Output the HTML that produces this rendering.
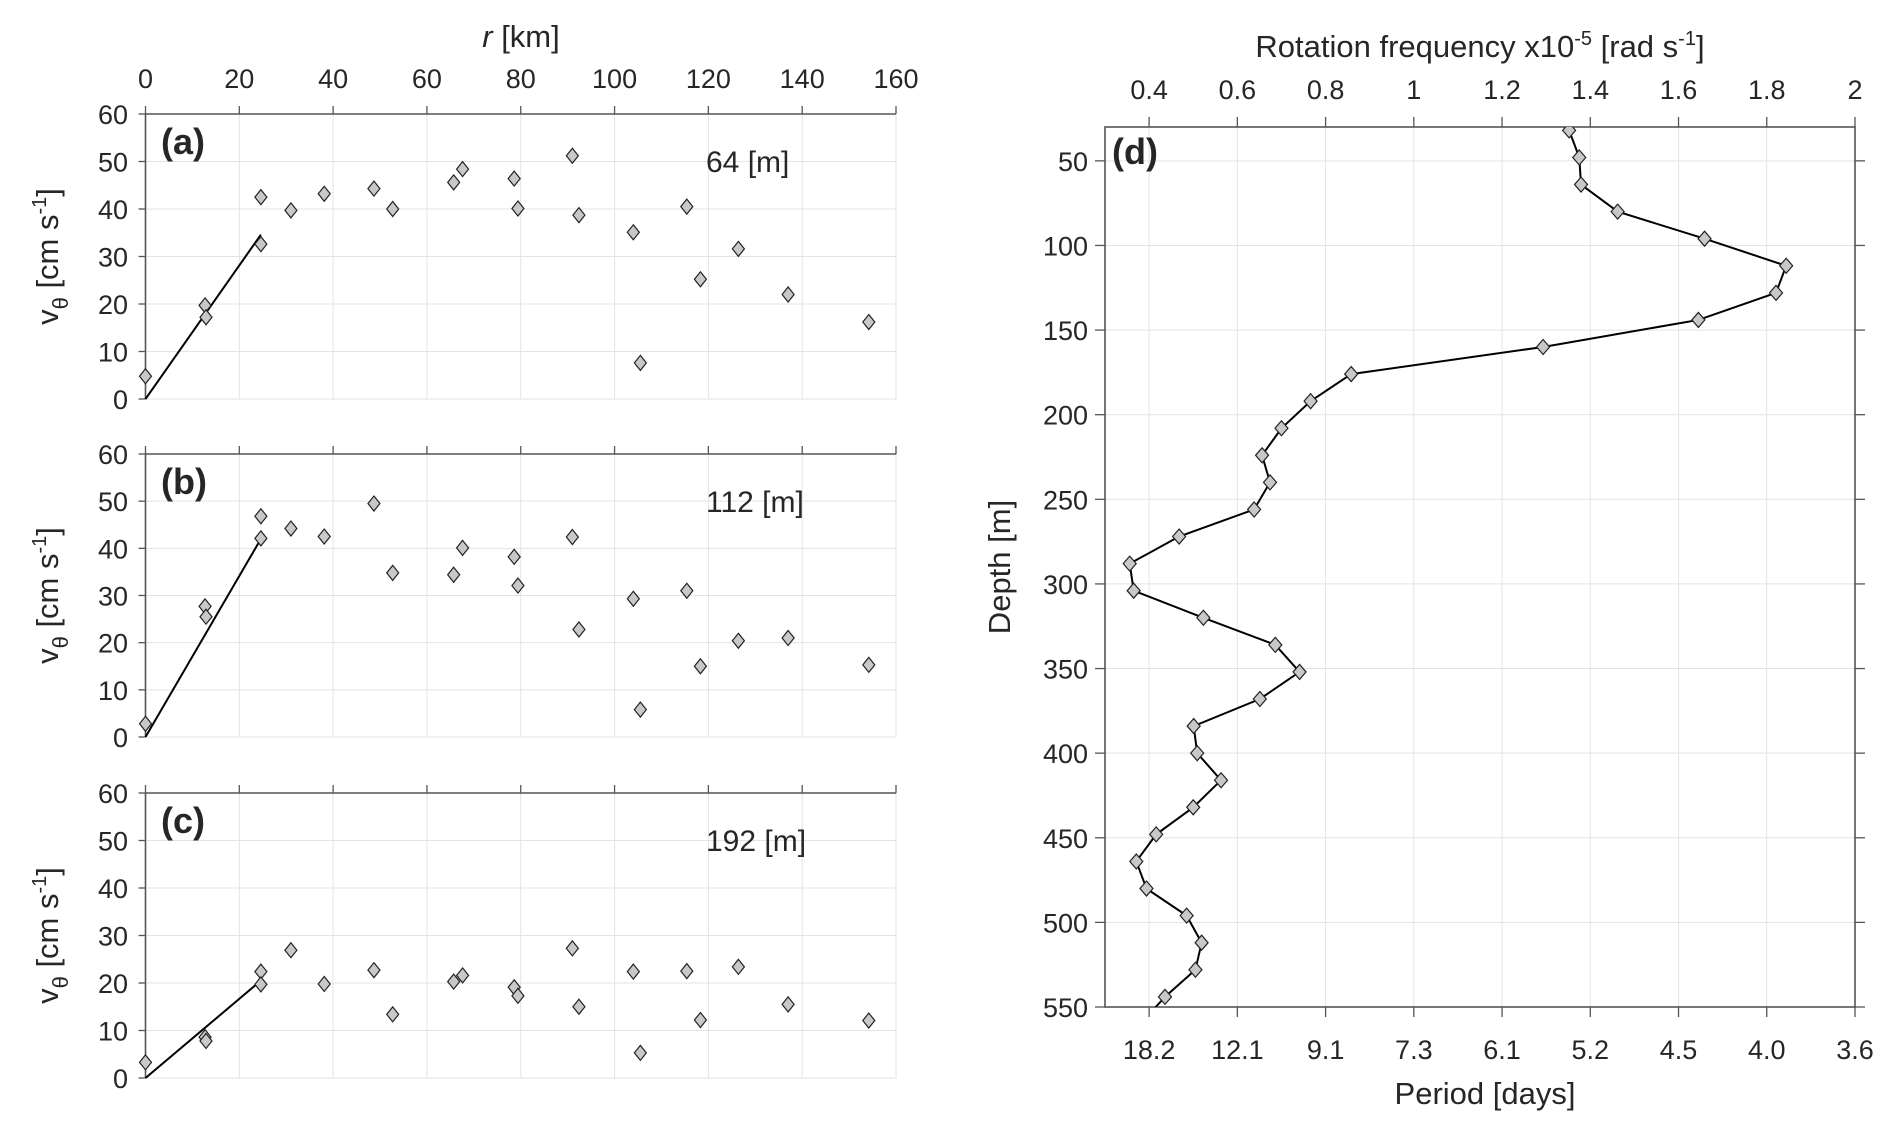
<!DOCTYPE html>
<html><head><meta charset="utf-8"><style>
html,body{margin:0;padding:0;background:#fff;}
svg text{font-family:"Liberation Sans",sans-serif;fill:#262626;}
</style></head><body>
<svg id="fig" width="1892" height="1130" viewBox="0 0 1892 1130" xmlns="http://www.w3.org/2000/svg">
<defs><clipPath id="clipd"><rect x="1105" y="127" width="750" height="880"/></clipPath></defs>
</svg>
<script>
// ---- data for panels a-c ----
const rKm = [0, 12.7, 12.9, 24.6, 24.6, 31, 38.1, 48.7, 52.7, 65.7, 67.6, 78.6, 79.4, 91, 92.4, 104, 105.5, 115.4, 118.3, 126.4, 137, 154.2];
const vA = [4.8, 19.7, 17.2, 42.5, 32.6, 39.7, 43.2, 44.3, 40.0, 45.6, 48.4, 46.4, 40.1, 51.2, 38.7, 35.1, 7.6, 40.5, 25.2, 31.6, 22.0, 16.2];
const vB = [2.8, 27.7, 25.5, 46.8, 42.1, 44.2, 42.5, 49.5, 34.8, 34.4, 40.1, 38.2, 32.1, 42.4, 22.8, 29.3, 5.8, 31.0, 15.0, 20.4, 21.0, 15.3];
const vC = [3.3, 8.6, 7.8, 22.4, 19.7, 26.9, 19.8, 22.7, 13.4, 20.3, 21.6, 19.1, 17.3, 27.3, 15.0, 22.4, 5.3, 22.5, 12.2, 23.4, 15.5, 12.1];
const fitEndR = [24.6, 24.6, 24.6];
const fitEndV = [34.6, 42.0, 20.5];
const rTicks = [0, 20, 40, 60, 80, 100, 120, 140, 160];
const vTicks = [0, 10, 20, 30, 40, 50, 60];
const panelLabels = ["(a)", "(b)", "(c)"];
const depthLabels = ["64 [m]", "112 [m]", "192 [m]"];
// ---- data for panel d ----
const depthM = [32,48,64,80,96,112,128,144,160,176,192,208,224,240,256,272,288,304,320,336,352,368,384,400,416,432,448,464,480,496,512,528,544,560];
const freq = [1.352,1.375,1.379,1.462,1.659,1.844,1.821,1.645,1.293,0.858,0.766,0.700,0.656,0.674,0.638,0.468,0.356,0.365,0.523,0.686,0.741,0.651,0.501,0.509,0.563,0.500,0.416,0.371,0.394,0.485,0.519,0.505,0.436,0.38];
const fTicks = [0.4,0.6,0.8,1,1.2,1.4,1.6,1.8,2];
const fTickLabels = ["0.4","0.6","0.8","1","1.2","1.4","1.6","1.8","2"];
const periodLabels = ["18.2","12.1","9.1","7.3","6.1","5.2","4.5","4.0","3.6"];
const dTicks = [50,100,150,200,250,300,350,400,450,500,550];

const svg = document.getElementById('fig');
const NS = "http://www.w3.org/2000/svg";
function mk(tag, attrs, parent){const e=document.createElementNS(NS,tag);for(const k in attrs)e.setAttribute(k,attrs[k]);(parent||svg).appendChild(e);return e;}
function diamond(cx,cy,hw,hh,parent){return mk('polygon',{points:`${cx},${cy-hh} ${cx+hw},${cy} ${cx},${cy+hh} ${cx-hw},${cy}`,fill:'#c8c8c8',stroke:'#222','stroke-width':1.2},parent);}

const X0=145.5, X1=896;
const panels=[{top:114,bot:399,v:vA},{top:454,bot:737,v:vB},{top:793,bot:1078,v:vC}];
const xr = r => X0 + (r/160)*(X1-X0);
panels.forEach((p,i)=>{
  const g=mk('g',{});
  
  
  const yv = v => p.bot - (v/60)*(p.bot-p.top);
  rTicks.forEach(t=>{const l=mk('line',{x1:xr(t),x2:xr(t),y1:p.top,y2:p.bot,stroke:'#e3e3e3','stroke-width':1},g);
    const tk=mk('line',{x1:xr(t),x2:xr(t),y1:p.top-8,y2:p.top,stroke:'#555','stroke-width':1.3},g);});
  vTicks.forEach(t=>{const l=mk('line',{x1:X0,x2:X1,y1:yv(t),y2:yv(t),stroke:'#e3e3e3','stroke-width':1},g);
    const tk=mk('line',{x1:X0-7,x2:X0,y1:yv(t),y2:yv(t),stroke:'#555','stroke-width':1.3},g);
    const tx=mk('text',{x:128,y:yv(t)+10,'text-anchor':'end','font-size':27},g);tx.textContent=t;});
  const ax=mk('path',{d:`M${X0},${p.bot} L${X0},${p.top} L${X1},${p.top}`,fill:'none',stroke:'#555','stroke-width':1.6},g);
  
  const fl=mk('line',{x1:xr(0),y1:yv(0),x2:xr(fitEndR[i]),y2:yv(fitEndV[i]),stroke:'#000','stroke-width':2},g);
  
  p.v.forEach((v,j)=>{const d=diamond(xr(rKm[j]),yv(v),6,7.5,g);});
  const pl=mk('text',{x:161,y:p.top+40,'font-size':36,'font-weight':'bold',fill:'#000'},g);
  pl.textContent=panelLabels[i];
  const dl=mk('text',{x:706,y:p.top+58,'font-size':30,fill:'#000'},g);
  dl.textContent=depthLabels[i];
  const yl=mk('text',{x:0,y:0,'font-size':31,'text-anchor':'middle',transform:`translate(58,${(p.top+p.bot)/2}) rotate(-90)`},g);
  yl.innerHTML='v<tspan font-size="22" dy="10">θ</tspan><tspan dy="-10"> [cm s</tspan><tspan font-size="20" dy="-12">-1</tspan><tspan dy="12">]</tspan>';
  
});
rTicks.forEach(t=>{const tx=mk('text',{x:xr(t),y:88,'text-anchor':'middle','font-size':27});tx.textContent=t;});
const xt=mk('text',{x:521,y:47,'text-anchor':'middle','font-size':31});
xt.innerHTML='<tspan font-style="italic">r</tspan> [km]';


const DX0=1105, DX1=1855, DY0=127, DY1=1007;
const xf = f => DX0 + (f-0.3)/(2-0.3)*(DX1-DX0);
const yd = d => DY0 + (d-30)/(550-30)*(DY1-DY0);
const gd=mk('g',{});


fTicks.forEach((f,i)=>{
  const l=mk('line',{x1:xf(f),x2:xf(f),y1:DY0,y2:DY1,stroke:'#e3e3e3'},gd);
  const t1=mk('line',{x1:xf(f),x2:xf(f),y1:DY0-10,y2:DY0,stroke:'#555','stroke-width':1.3},gd);
  const t2=mk('line',{x1:xf(f),x2:xf(f),y1:DY1,y2:DY1+10,stroke:'#555','stroke-width':1.3},gd);
  const a=mk('text',{x:xf(f),y:99,'text-anchor':'middle','font-size':27},gd);a.textContent=fTickLabels[i];
  const b=mk('text',{x:xf(f),y:1059,'text-anchor':'middle','font-size':27},gd);b.textContent=periodLabels[i];
});
dTicks.forEach(d=>{
  const l=mk('line',{x1:DX0,x2:DX1,y1:yd(d),y2:yd(d),stroke:'#e3e3e3'},gd);
  const t1=mk('line',{x1:DX0-10,x2:DX0,y1:yd(d),y2:yd(d),stroke:'#555','stroke-width':1.3},gd);
  const t2=mk('line',{x1:DX1,x2:DX1+10,y1:yd(d),y2:yd(d),stroke:'#555','stroke-width':1.3},gd);
  const tx=mk('text',{x:1088,y:yd(d)+10,'text-anchor':'end','font-size':27},gd);tx.textContent=d;
});
const fr=mk('rect',{x:DX0,y:DY0,width:DX1-DX0,height:DY1-DY0,fill:'none',stroke:'#555','stroke-width':1.6},gd);

const gc=mk('g',{'clip-path':'url(#clipd)'},gd);
const pl=mk('polyline',{points:depthM.map((d,i)=>xf(freq[i])+','+yd(d)).join(' '),fill:'none',stroke:'#000','stroke-width':2},gc);

depthM.forEach((d,i)=>{if(d<=550){const m=diamond(xf(freq[i]),yd(d),6.5,7.5,gc);}});
const dl=mk('text',{x:1112,y:164,'font-size':36,'font-weight':'bold',fill:'#000'},gd);dl.textContent='(d)';
const tt=mk('text',{x:1480,y:57,'text-anchor':'middle','font-size':31},gd);
tt.innerHTML='Rotation frequency x10<tspan font-size="20" dy="-12">-5</tspan><tspan dy="12"> [rad s</tspan><tspan font-size="20" dy="-12">-1</tspan><tspan dy="12">]</tspan>';

const bt=mk('text',{x:1485,y:1104,'text-anchor':'middle','font-size':31},gd);bt.textContent='Period [days]';

const lt=mk('text',{x:0,y:0,'text-anchor':'middle','font-size':31,transform:`translate(1010,${(DY0+DY1)/2}) rotate(-90)`},gd);lt.textContent='Depth [m]';

</script>
</body></html>
